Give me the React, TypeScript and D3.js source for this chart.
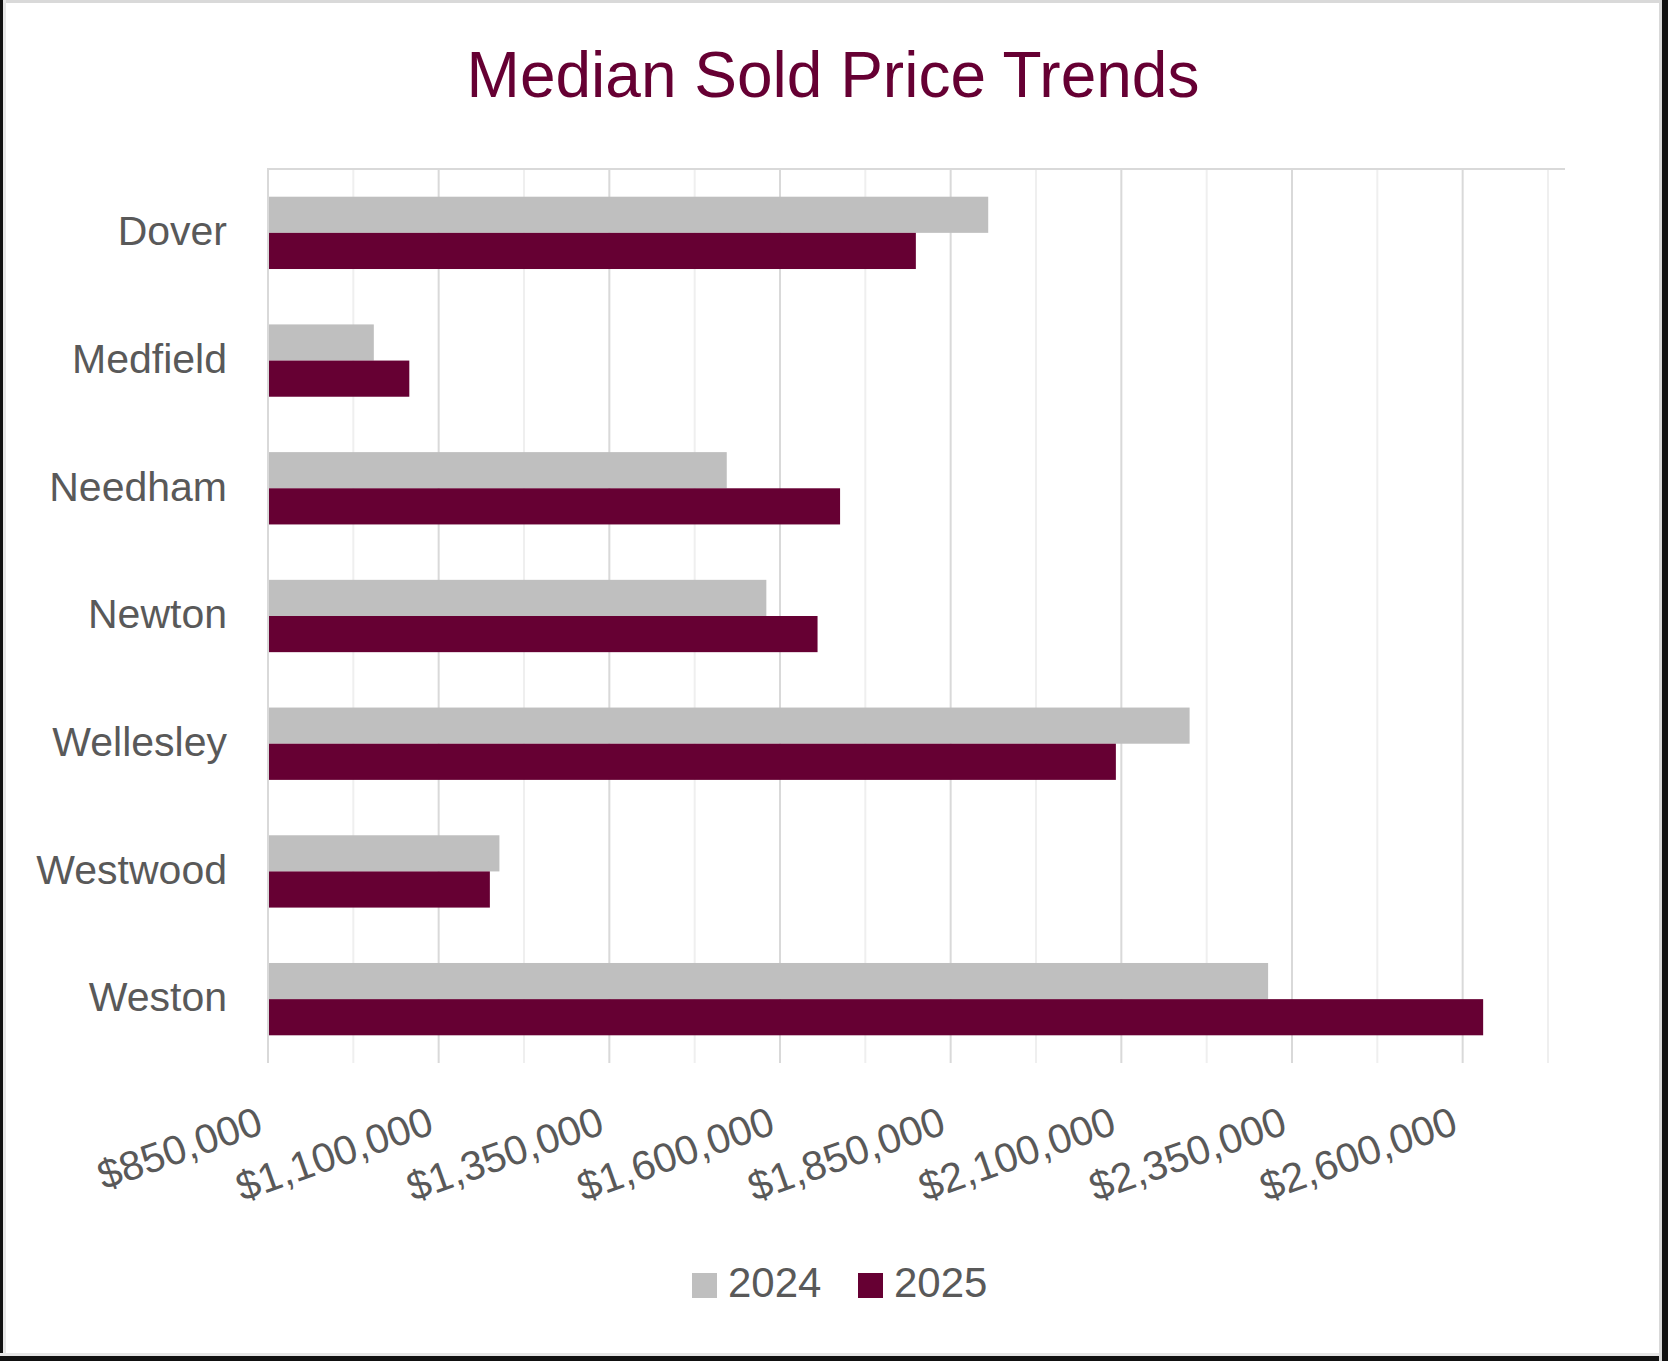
import { scaleLinear, scaleBand, format, range } from "d3";

const categories = ["Dover", "Medfield", "Needham", "Newton", "Wellesley", "Westwood", "Weston"];
const seriesNames = ["2024", "2025"];
const values2024 = [1905000, 1005000, 1522000, 1580000, 2200000, 1189000, 2315000];
const values2025 = [1799000, 1057000, 1688000, 1655000, 2092000, 1175000, 2630000];
const xTicks = [850000, 1100000, 1350000, 1600000, 1850000, 2100000, 2350000, 2600000];

const W = 1668;
const H = 1361;
const colors = ["#bfbfbf", "#660033"];
const textColor = "#595959";
const font = "'Liberation Sans', Arial, sans-serif";

export default function App() {
  const x = scaleLinear().domain([850000, 2725000]).range([268, 1548]);
  const y = scaleBand<string>().domain(categories).range([169, 1063]);
  const sub = scaleBand<string>()
    .domain(seriesNames)
    .range([0, y.bandwidth()])
    .paddingOuter(0.766);
  const fmt = format("$,.0f");
  const minor = range(850000, 2725001, 125000);
  const series = [values2024, values2025];

  return (
    <svg
      width={W}
      height={H}
      style={{ position: "absolute", left: 0, top: 0 }}
      fontFamily={font}
    >
      <rect width={W} height={H} fill="#fff" />

      <text x={833} y={97} textAnchor="middle" fontSize={64} fill="#660033">
        Median Sold Price Trends
      </text>

      {/* gridlines */}
      {minor.map((v) => {
        const major = xTicks.includes(v);
        return (
          <line
            key={v}
            x1={x(v)}
            x2={x(v)}
            y1={169}
            y2={1063}
            stroke={major ? "#d9d9d9" : "#efefef"}
            strokeWidth={2}
          />
        );
      })}
      <line x1={267} x2={1565} y1={169} y2={169} stroke="#d9d9d9" strokeWidth={2} />

      {/* bars */}
      {categories.map((c, i) => (
        <g key={c} transform={`translate(0,${y(c)})`}>
          {seriesNames.map((s, j) => (
            <rect
              key={s}
              x={x(850000) + 1}
              y={sub(s)}
              width={x(series[j][i]) - x(850000) - 1}
              height={sub.bandwidth()}
              fill={colors[j]}
            />
          ))}
          <text
            x={227}
            y={y.bandwidth() / 2}
            dy="0.3em"
            textAnchor="end"
            fontSize={41}
            fill={textColor}
          >
            {c}
          </text>
        </g>
      ))}

      {/* x tick labels */}
      {xTicks.map((t) => (
        <text
          key={t}
          transform={`translate(${x(t) - 3},1133) rotate(-19.5)`}
          textAnchor="end"
          fontSize={41}
          fill={textColor}
        >
          {fmt(t)}
        </text>
      ))}

      {/* legend */}
      {seriesNames.map((s, j) => {
        const lx = j === 0 ? 692 : 858;
        return (
          <g key={s}>
            <rect x={lx} y={1273} width={25} height={25} fill={colors[j]} />
            <text x={lx + 36} y={1297} fontSize={42} fill={textColor}>
              {s}
            </text>
          </g>
        );
      })}

      {/* frame */}
      <rect x={0} y={0} width={W} height={3} fill="#d9d9d9" />
      <rect x={3} y={0} width={3} height={H} fill="#e6e6e6" />
      <rect x={0} y={0} width={3} height={H} fill="#111" />
      <rect x={0} y={1353} width={W} height={3} fill="#e6e6e6" />
      <rect x={0} y={1356} width={W} height={5} fill="#111" />
      <rect x={1659} y={0} width={3} height={H} fill="#d9d9d9" />
      <rect x={1662} y={0} width={6} height={H} fill="#111" />
    </svg>
  );
}
